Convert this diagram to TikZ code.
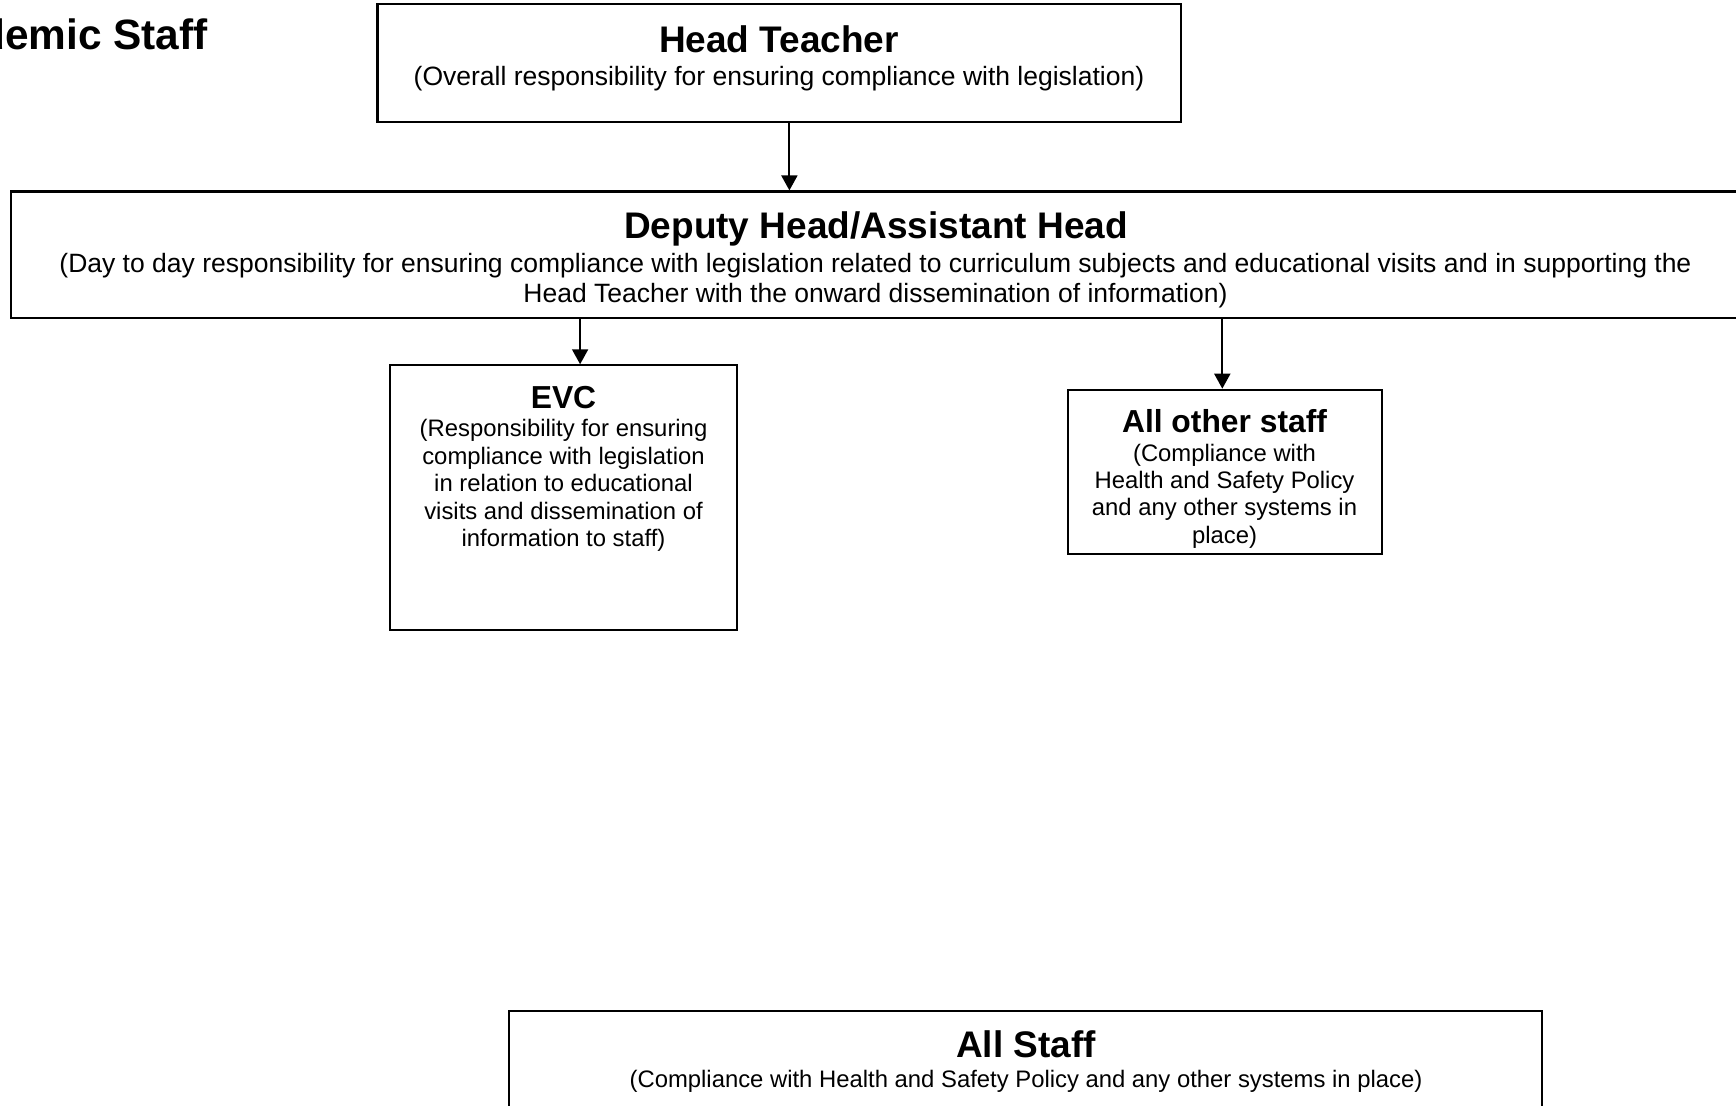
\documentclass[tikz,border=0pt]{standalone}
\usepackage{fontspec}
\setmainfont{Liberation Sans}
\usetikzlibrary{arrows.meta}
\tikzset{
  boxnode/.style={draw, line width=2.2pt, rectangle, inner sep=0pt},
  arr/.style={line width=2pt, -{Triangle[width=16pt,length=15pt]}},
  bigtitle/.style={inner sep=0pt, font=\fontsize{37}{44}\selectfont\bfseries},
  bigbody/.style={inner sep=0pt, align=center, font=\fontsize{26.5}{30}\selectfont},
  smalltitle/.style={inner sep=0pt, font=\fontsize{31.8}{38}\selectfont\bfseries},
  smallbody/.style={inner sep=0pt, align=center, font=\fontsize{23.85}{27.4}\selectfont},
}
\begin{document}
\begin{tikzpicture}[x=1pt, y=-1pt]
\useasboundingbox (0,0) rectangle (1736,1105);
% boxes
\node[boxnode, minimum width=803.8pt, minimum height=117.4pt] (head) at (779.4,63.1) {};
\node[boxnode, minimum width=1730pt, minimum height=126.2pt] (deputy) at (876,254.6) {};
\node[boxnode, minimum width=347.6pt, minimum height=264.7pt] (evc) at (563.5,497.7) {};
\node[boxnode, minimum width=313.3pt, minimum height=163.9pt] (other) at (1225,471.7) {};
\node[boxnode, minimum width=1032.9pt, minimum height=109.2pt] (allstaff) at (1025.8,1065.4) {};
% texts
\node[inner sep=0pt, anchor=east, font=\fontsize{42.4}{50}\selectfont\bfseries] (acad) at (208,34.3) {Academic Staff};
\node[bigtitle] (headT) at (779,38.8) {Head Teacher};
\node[bigbody] (headS) at (779,78.6) {(Overall responsibility for ensuring compliance with legislation)};
\node[bigtitle] (depT) at (876,229.2) {Deputy Head/Assistant Head};
\node[bigbody] (depS) at (875.5,280.7) {(Day to day responsibility for ensuring compliance with legislation related to curriculum subjects and educational visits and in supporting the\\Head Teacher with the onward dissemination of information)};
\node[smalltitle] (evcT) at (563.5,397.4) {EVC};
\node[smallbody] (evcS) at (563.5,485.5) {(Responsibility for ensuring\\compliance with legislation\\in relation to educational\\visits and dissemination of\\information to staff)};
\node[smalltitle] (othT) at (1224.5,420.7) {All other staff};
\node[smallbody] (othS) at (1224.5,496) {(Compliance with\\Health and Safety Policy\\and any other systems in\\place)};
\node[bigtitle] (allT) at (1026,1044) {All Staff};
\node[smallbody] (allS) at (1026,1081.6) {(Compliance with Health and Safety Policy and any other systems in place)};
% connectors
\coordinate (a1) at (789.4,0);
\coordinate (a2) at (580.1,0);
\coordinate (a3) at (1222.3,0);
\draw[arr] (head.south -| a1) -- (deputy.north -| a1);
\draw[arr] (deputy.south -| a2) -- (evc.north -| a2);
\draw[arr] (deputy.south -| a3) -- (other.north -| a3);
\end{tikzpicture}
\end{document}
